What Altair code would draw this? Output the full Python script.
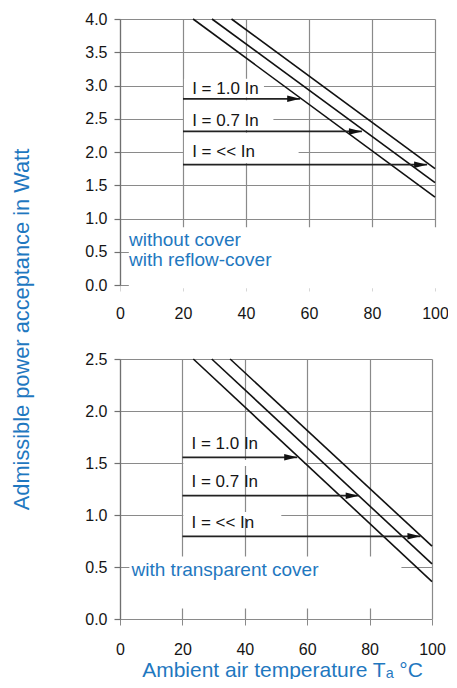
import altair as alt
import pandas as pd

FONT = "Liberation Sans"
BLUE = "#1f78c0"
GRID = "#8a8a8a"
INK = "#151515"

# ---------------- data ----------------
x_ticks = [0, 20, 40, 60, 80, 100]
top_y_ticks = [0.0, 0.5, 1.0, 1.5, 2.0, 2.5, 3.0, 3.5, 4.0]
bot_y_ticks = [0.0, 0.5, 1.0, 1.5, 2.0, 2.5]

curve_names = ["I = << In", "I = 0.7 In", "I = 1.0 In"]
# derating curves (straight lines), start and end points
top_curve_x = [[23.2, 100], [29.2, 100], [35.4, 100]]
top_curve_y = [[4.0, 1.32], [4.0, 1.54], [4.0, 1.75]]
bot_curve_x = [[23.5, 100], [29.4, 100], [35.3, 100]]
bot_curve_y = [[2.5, 0.36], [2.5, 0.53], [2.5, 0.70]]

arrow_labels = ["I = 1.0 In", "I = 0.7 In", "I = << In"]
arrow_start = [20, 20, 20]
top_arrow_y = [2.80, 2.31, 1.81]
top_arrow_end = [57.2, 76.8, 97.5]
top_label_y = [2.87, 2.395, 1.92]
bot_arrow_y = [1.555, 1.186, 0.795]
bot_arrow_end = [56.8, 76.5, 96.3]
bot_label_y = [1.635, 1.266, 0.872]
label_x = [22.9, 22.9, 22.9]

top_notes = ["without cover", "with reflow-cover"]
top_note_x = [2.85, 2.85]
top_note_y = [0.59, 0.29]
bot_notes = ["with transparent cover"]
bot_note_x = [3.7]
bot_note_y = [0.416]

# white areas of the original drawing that hide the grid
top_mask_x = [2.8, 20.3, 20.3, 20.3]
top_mask_x2 = [101.0, 45.7, 48.7, 56.7]
top_mask_y = [-0.05, 2.82, 2.33, 1.83]
top_mask_y2 = [0.87, 3.10, 2.78, 2.29]
bot_mask_x = [3.0, 20.3, 20.3]
bot_mask_x2 = [90.2, 59.0, 51.7]
bot_mask_y = [0.10, 1.47, 0.97]
bot_mask_y2 = [0.60, 1.53, 1.03]

ARROW_HEAD = "M0,0L-2,-0.5L-2,0.5Z"


def panel(curve_x, curve_y, arrow_y, arrow_end, label_y, notes, note_x, note_y,
          mask_x, mask_x2, mask_y, mask_y2, ymax, yticks, width, height,
          y_title=None, x_title=None, x_tick_opacity=1.0, x_label_pad=14):
    xs = alt.Scale(domain=[0, 100], nice=False, zero=False)
    ys = alt.Scale(domain=[0, ymax], nice=False, zero=False)

    x_axis_kw = dict(values=x_ticks, grid=True, gridColor=GRID, gridWidth=1.2,
                     domain=False, tickSize=6, tickColor=GRID, tickOpacity=x_tick_opacity,
                     labelFontSize=16, labelColor=INK, labelFont=FONT,
                     labelPadding=x_label_pad, labelFlush=False)
    if x_title:
        x_axis = alt.Axis(title=x_title, titleFontSize=21, titleColor=BLUE,
                          titleFont=FONT, titleFontWeight="normal",
                          titleBaseline="alphabetic", titleAlign="center",
                          titleX=162, titleY=57, **x_axis_kw)
    else:
        x_axis = alt.Axis(title=None, **x_axis_kw)

    y_axis_kw = dict(values=yticks, format=".1f", grid=True, gridColor=GRID, gridWidth=1.2,
                     domain=True, domainColor="#707070", domainWidth=1.2,
                     tickSize=6, tickColor="#707070", tickWidth=1.2,
                     labelFontSize=16, labelColor=INK, labelFont=FONT, labelPadding=7,
                     labelFlush=False)
    if y_title:
        y_axis = alt.Axis(title=y_title, titleFontSize=21.8, titleColor=BLUE,
                          titleFont=FONT, titleFontWeight="normal", titleAngle=270,
                          titleBaseline="alphabetic", titleAlign="center",
                          titleX=-92, titleY=310, **y_axis_kw)
    else:
        y_axis = alt.Axis(title=None, **y_axis_kw)

    def X(field):
        return alt.X(field, scale=xs, axis=x_axis)

    def Y(field):
        return alt.Y(field, scale=ys, axis=y_axis)

    masks = pd.DataFrame({"x": mask_x, "x2": mask_x2, "y": mask_y, "y2": mask_y2})
    rows = []
    for name, cx, cy in zip(curve_names, curve_x, curve_y):
        for a, b in zip(cx, cy):
            rows.append({"curve": name, "x": a, "y": b})
    curves = pd.DataFrame(rows)
    arrows = pd.DataFrame({"label": arrow_labels, "x": arrow_start, "x2": arrow_end,
                           "y": arrow_y})
    labels = pd.DataFrame({"label": arrow_labels, "x": label_x, "y": label_y})
    note_df = pd.DataFrame({"note": notes, "x": note_x, "y": note_y})

    base_mask = alt.Chart(masks).mark_rect(color="white", strokeWidth=0).encode(
        x=X("x:Q"), x2="x2:Q", y=Y("y:Q"), y2="y2:Q",
    )
    line = alt.Chart(curves).mark_line(color="#111111", strokeWidth=1.6).encode(
        x=X("x:Q"), y=Y("y:Q"), detail="curve:N",
    )
    arrow = alt.Chart(arrows).mark_rule(color="#222222", strokeWidth=1.7).encode(
        x=X("x:Q"), x2="x2:Q", y=Y("y:Q"),
    )
    head = alt.Chart(arrows).mark_point(shape=ARROW_HEAD, size=169, filled=True,
                                        color="#111111", opacity=1, strokeWidth=0).encode(
        x=X("x2:Q"), y=Y("y:Q"),
    )
    label = alt.Chart(labels).mark_text(align="left", baseline="alphabetic", font=FONT,
                                        fontSize=17, color=INK).encode(
        x=X("x:Q"), y=Y("y:Q"), text="label:N",
    )
    note = alt.Chart(note_df).mark_text(align="left", baseline="alphabetic", font=FONT,
                                        fontSize=19, color=BLUE).encode(
        x=X("x:Q"), y=Y("y:Q"), text="note:N",
    )
    return alt.layer(base_mask, line, arrow, head, label, note).properties(
        width=width, height=height)


top = panel(top_curve_x, top_curve_y, top_arrow_y, top_arrow_end, top_label_y,
            top_notes, top_note_x, top_note_y,
            top_mask_x, top_mask_x2, top_mask_y, top_mask_y2,
            4.0, top_y_ticks, 315, 266,
            y_title="Admissible power acceptance in Watt", x_tick_opacity=0.35)
bottom = panel(bot_curve_x, bot_curve_y, bot_arrow_y, bot_arrow_end, bot_label_y,
               bot_notes, bot_note_x, bot_note_y,
               bot_mask_x, bot_mask_x2, bot_mask_y, bot_mask_y2,
               2.5, bot_y_ticks, 312, 260,
               x_title="Ambient air temperature T\u2090 \u00b0C", x_label_pad=16)

chart = alt.vconcat(top, bottom, spacing=74, bounds="flush").properties(
    padding={"left": 3, "top": 3, "right": -1, "bottom": -1},
    background="white",
).configure_view(stroke=None)

chart.save("out.html", embed_options={"renderer": "svg", "actions": False})
